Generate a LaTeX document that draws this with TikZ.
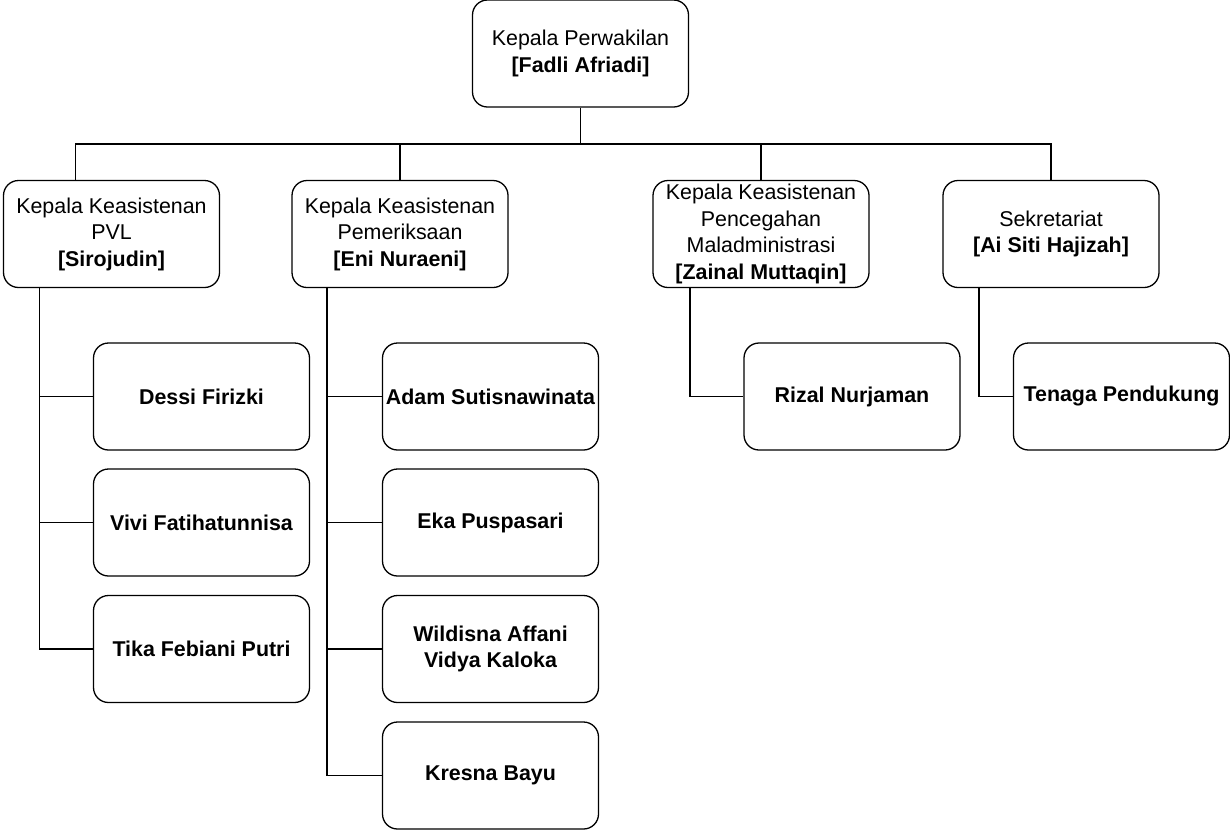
\documentclass[tikz,border=0pt]{standalone}
\usepackage{fontspec}
\setmainfont{Liberation Sans}
\begin{document}
\begin{tikzpicture}[x=1pt,y=-1pt,
        kotak/.style={draw,rounded corners=15pt,line width=1.3pt,
                      minimum width=216pt,minimum height=107pt,
                      align=center,inner sep=2pt,
                      font=\fontsize{21.4}{26.5}\selectfont},
        garis/.style={line width=1.3pt}]
    \useasboundingbox (0,0) rectangle (1230,831);
    % pimpinan
    \node[kotak] (kepala) at (580.5,53.5) {Kepala Perwakilan\\\textbf{[Fadli Afriadi]}};
    % keasistenan
    \node[kotak] (pvl) at (111.5,234) {Kepala Keasistenan\\PVL\\\textbf{[Sirojudin]}};
    \node[kotak] (periksa) at (400,234) {Kepala Keasistenan\\Pemeriksaan\\\textbf{[Eni Nuraeni]}};
    \node[kotak] (cegah) at (761,234) {Kepala Keasistenan\\Pencegahan\\Maladministrasi\\\textbf{[Zainal Muttaqin]}};
    \node[kotak] (sekre) at (1051,234) {Sekretariat\\\textbf{[Ai Siti Hajizah]}};
    % staf
    \node[kotak,font=\fontsize{21.4}{26.5}\selectfont\bfseries] (dessi) at (201.5,396.5) {Dessi Firizki};
    \node[kotak,font=\fontsize{21.4}{26.5}\selectfont\bfseries] (vivi) at (201.5,522.5) {Vivi Fatihatunnisa};
    \node[kotak,font=\fontsize{21.4}{26.5}\selectfont\bfseries] (tika) at (201.5,649) {Tika Febiani Putri};
    \node[kotak,font=\fontsize{21.4}{26.5}\selectfont\bfseries] (adam) at (490.5,396.5) {Adam Sutisnawinata};
    \node[kotak,font=\fontsize{21.4}{26.5}\selectfont\bfseries] (eka) at (490.5,522.5) {Eka Puspasari};
    \node[kotak,font=\fontsize{21.4}{26.5}\selectfont\bfseries] (wildisna) at (490.5,649) {Wildisna Affani\\Vidya Kaloka};
    \node[kotak,font=\fontsize{21.4}{26.5}\selectfont\bfseries] (kresna) at (490.5,775.5) {Kresna Bayu};
    \node[kotak,font=\fontsize{21.4}{26.5}\selectfont\bfseries] (rizal) at (852,396.5) {Rizal Nurjaman};
    \node[kotak,font=\fontsize{21.4}{26.5}\selectfont\bfseries] (tenaga) at (1121.5,396.5) {Tenaga Pendukung};
    % garis
    \coordinate (bus) at (580.5,144);
    \draw[garis] (kepala.south) -- (bus);
    \draw[garis] (bus) -| ([xshift=-36pt]pvl.north);
    \foreach \n in {periksa,cegah,sekre}
        \draw[garis] (bus) -| (\n.north);
    \foreach \n in {dessi,vivi,tika}
        \draw[garis] ([xshift=-72pt]pvl.south) |- (\n.west);
    \foreach \n in {adam,eka,wildisna,kresna}
        \draw[garis] ([xshift=-73pt]periksa.south) |- (\n.west);
    \draw[garis] ([xshift=-71pt]cegah.south) |- (rizal.west);
    \draw[garis] ([xshift=-72pt]sekre.south) |- (tenaga.west);
\end{tikzpicture}
\end{document}
